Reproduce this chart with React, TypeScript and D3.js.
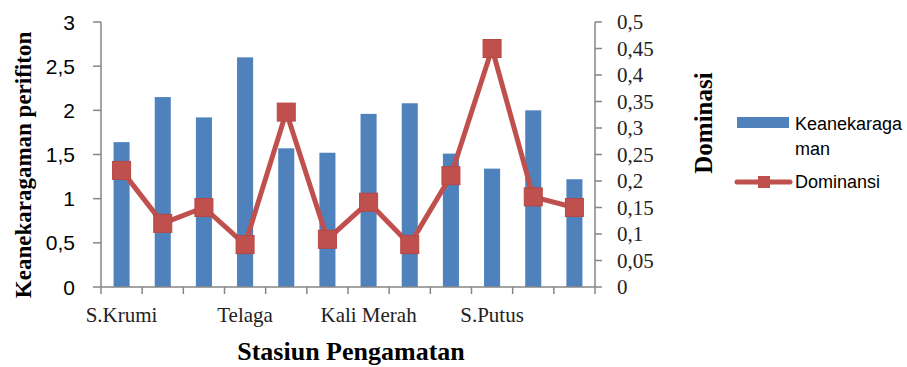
import React from "react";
import * as d3 from "d3";

// Sampling stations (only every third is labelled on the axis)
const stations = ["S.Krumi", "", "", "Telaga", "", "", "Kali Merah", "", "", "S.Putus", "", ""];
// Keanekaragaman (diversity index), left axis
const keanekaragaman = [1.64, 2.15, 1.92, 2.6, 1.57, 1.52, 1.96, 2.08, 1.51, 1.34, 2.0, 1.22];
// Dominansi (dominance index), right axis
const dominansi = [0.22, 0.12, 0.15, 0.08, 0.33, 0.09, 0.16, 0.08, 0.21, 0.45, 0.17, 0.15];

const leftTicks = [0, 0.5, 1, 1.5, 2, 2.5, 3];
const rightTicks = [0, 0.05, 0.1, 0.15, 0.2, 0.25, 0.3, 0.35, 0.4, 0.45, 0.5];

const W = 907;
const H = 367;
const plot = { left: 101, right: 595, top: 22, bottom: 287 };

const BLUE = "#4F81BD";
const RED = "#C0504D";
const AXIS = "#868686";
const SERIF = "'Liberation Serif', 'DejaVu Serif', serif";
const SANS = "'Liberation Sans', Arial, sans-serif";

const fmt = (v: number) => String(v).replace(".", ",");

export default function App() {
  const idx = stations.map((_, i) => i);
  const x = d3
    .scaleBand<number>()
    .domain(idx)
    .range([plot.left, plot.right])
    .paddingInner(0.61)
    .paddingOuter(0.305);
  const step = x.step();
  const yL = d3.scaleLinear().domain([0, 3]).range([plot.bottom, plot.top]);
  const yR = d3.scaleLinear().domain([0, 0.5]).range([plot.bottom, plot.top]);

  const cx = (i: number) => (x(i) as number) + x.bandwidth() / 2;
  const line = d3
    .line<number>()
    .x((_, i) => cx(i))
    .y((d) => yR(d));

  const boundaries = d3.range(stations.length + 1).map((k) => plot.left + k * step);
  const marker = 18;

  return (
    <svg
      width={W}
      height={H}
      style={{ position: "absolute", left: 0, top: 0, background: "#fff" }}
    >
      {/* bars */}
      {keanekaragaman.map((v, i) => (
        <rect
          key={"b" + i}
          x={x(i)}
          y={yL(v)}
          width={x.bandwidth()}
          height={yL(0) - yL(v)}
          fill={BLUE}
        />
      ))}

      {/* left axis */}
      <line x1={plot.left} x2={plot.left} y1={plot.top} y2={plot.bottom} stroke={AXIS} strokeWidth={1.5} />
      {leftTicks.map((t) => (
        <g key={"l" + t}>
          <line x1={plot.left - 8} x2={plot.left} y1={yL(t)} y2={yL(t)} stroke={AXIS} strokeWidth={1.5} />
          <text
            x={75}
            y={yL(t)}
            textAnchor="end"
            dominantBaseline="central"
            fontFamily={SANS}
            fontSize={21}
            fill="#000"
          >
            {fmt(t)}
          </text>
        </g>
      ))}

      {/* right axis */}
      <line x1={plot.right} x2={plot.right} y1={plot.top} y2={plot.bottom} stroke={AXIS} strokeWidth={1.5} />
      {rightTicks.map((t) => (
        <g key={"r" + t}>
          <line x1={plot.right} x2={plot.right + 7} y1={yR(t)} y2={yR(t)} stroke={AXIS} strokeWidth={1.5} />
          <text
            x={617}
            y={yR(t)}
            dominantBaseline="central"
            fontFamily={SERIF}
            fontSize={21}
            fill="#222"
          >
            {fmt(t)}
          </text>
        </g>
      ))}

      {/* category axis */}
      <line x1={plot.left} x2={plot.right} y1={plot.bottom} y2={plot.bottom} stroke={AXIS} strokeWidth={1.5} />
      {boundaries.map((bx, k) => (
        <line key={"t" + k} x1={bx} x2={bx} y1={plot.bottom} y2={plot.bottom + 7} stroke={AXIS} strokeWidth={1.5} />
      ))}
      {stations.map((s, i) =>
        s ? (
          <text
            key={"c" + i}
            x={cx(i)}
            y={322}
            textAnchor="middle"
            fontFamily={SERIF}
            fontSize={21}
            fill="#222"
          >
            {s}
          </text>
        ) : null
      )}

      {/* dominance line */}
      <path d={line(dominansi) || ""} fill="none" stroke={RED} strokeWidth={5} strokeLinejoin="round" />
      {dominansi.map((v, i) => (
        <rect
          key={"m" + i}
          x={cx(i) - marker / 2}
          y={yR(v) - marker / 2}
          width={marker}
          height={marker}
          fill={RED}
          stroke="#B64743"
          strokeWidth={1}
        />
      ))}

      {/* axis titles */}
      <text
        transform="translate(23,165) rotate(-90)"
        textAnchor="middle"
        dominantBaseline="central"
        fontFamily={SERIF}
        fontWeight="bold"
        fontSize={23}
        fill="#000"
      >
        Keanekaragaman perifiton
      </text>
      <text
        transform="translate(703,123) rotate(-90)"
        textAnchor="middle"
        dominantBaseline="central"
        fontFamily={SERIF}
        fontWeight="bold"
        fontSize={25}
        fill="#000"
      >
        Dominasi
      </text>
      <text
        x={351}
        y={360}
        textAnchor="middle"
        fontFamily={SERIF}
        fontWeight="bold"
        fontSize={26}
        fill="#000"
      >
        Stasiun Pengamatan
      </text>

      {/* legend */}
      <rect x={737} y={117} width={52} height={11} fill={BLUE} />
      <text x={795} y={130} fontFamily={SANS} fontSize={18} fill="#000">
        Keanekaraga
      </text>
      <text x={795} y={155} fontFamily={SANS} fontSize={18} fill="#000">
        man
      </text>
      <line x1={737} x2={790} y1={182} y2={182} stroke={RED} strokeWidth={5} strokeLinecap="round" />
      <rect x={758} y={176} width={12} height={12} fill={RED} />
      <text x={795} y={188} fontFamily={SANS} fontSize={18} fill="#000">
        Dominansi
      </text>
    </svg>
  );
}
